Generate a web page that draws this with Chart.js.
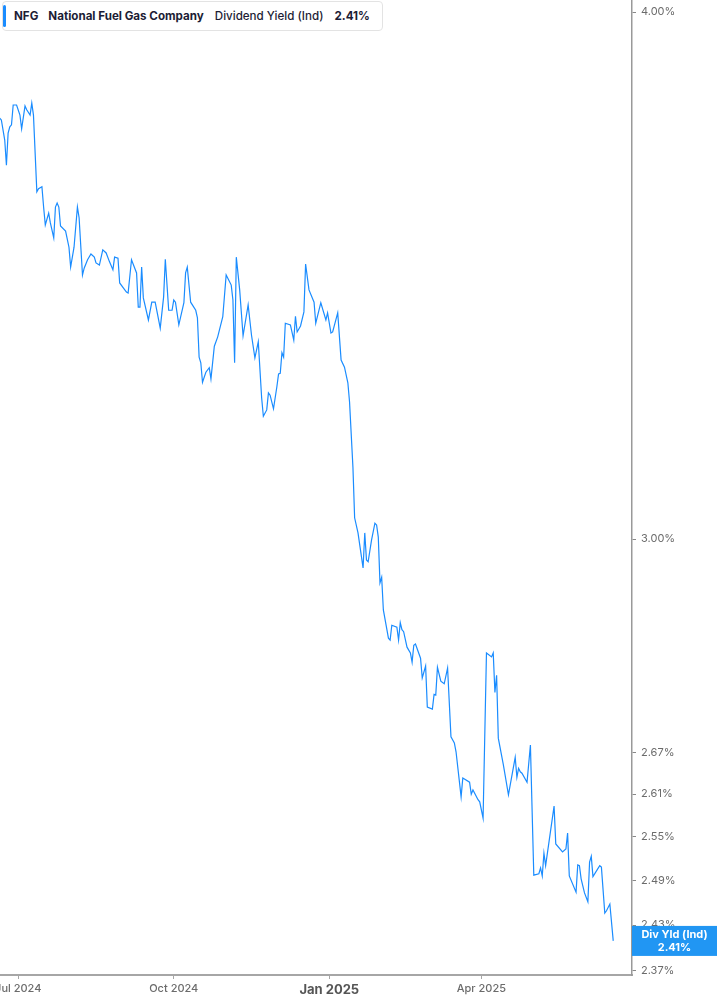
<!DOCTYPE html>
<html>
<head>
<meta charset="utf-8">
<script src="https://cdn.jsdelivr.net/npm/chart.js@4.4.1/dist/chart.umd.min.js"></script>
<style>
    html, body { margin: 0; padding: 0; background: #ffffff; }
    #wrap { position: relative; width: 717px; height: 1005px; }
    #legendBox {
        position: absolute; left: 2px; top: 1px; height: 28px;
        display: flex; align-items: center; gap: 10px;
        padding: 0 12px 0 11px;
        background: #ffffff; border: 1px solid #e3e3e3; border-radius: 4px;
        font: 400 11.6px Inter, sans-serif; color: #1d1d35; white-space: nowrap;
    }
    #legendBox .bar {
        position: absolute; left: 0px; top: 3px; width: 3px; height: 22px;
        background: #1a8cff; border-radius: 2px;
    }
    #legendBox b { font-weight: 700; }
    #legendBox .metric { margin-left: 1px; font-weight: 500; }
    #legendBox .val { margin-left: 1px; }
</style>
</head>
<body>
<div id="wrap">
    <canvas id="yieldChart"></canvas>
    <div id="legendBox">
        <span class="bar"></span>
        <b>NFG</b>
        <b>National Fuel Gas Company</b>
        <span class="metric">Dividend Yield (Ind)</span>
        <b class="val">2.41%</b>
    </div>
</div>
<script>
// ---- Data: days counted from 1 Jul 2024, dividend yield in % ----
const dayOffsets = [
    -11, -10, -8, -7, -6, -5, -4, -3, -1, 1, 2, 4, 5, 7, 8, 9,
    11, 12, 14, 15, 16, 18, 19, 21, 22, 23, 24, 25, 28, 30, 31, 33,
    35, 36, 38, 39, 41, 43, 45, 46, 48, 50, 52, 54, 56, 57, 59, 60,
    64, 65, 67, 70, 71, 72, 73, 74, 77, 79, 81, 84, 86, 87, 89, 91,
    92, 93, 95, 98, 99, 100, 102, 105, 106, 107, 108, 109, 111, 113, 114, 116,
    118, 121, 123, 126, 127, 128, 129, 131, 133, 136, 138, 140, 142, 144, 145, 147,
    148, 149, 151, 153, 154, 155, 156, 157, 158, 161, 163, 164, 165, 167, 169, 170,
    172, 175, 176, 179, 182, 183, 185, 186, 189, 191, 193, 195, 196, 198, 199, 201,
    204, 205, 206, 207, 209, 211, 212, 213, 214, 215, 216, 219, 220, 221, 224, 225,
    226, 227, 228, 230, 232, 233, 234, 235, 238, 239, 241, 242, 245, 246, 247, 248,
    250, 252, 254, 256, 258, 259, 262, 263, 267, 268, 269, 272, 273, 275, 277, 280,
    281, 282, 283, 284, 287, 290, 294, 295, 296, 297, 298, 301, 303, 305, 308, 309,
    310, 311, 312, 317, 318, 322, 324, 325, 326, 330, 331, 332, 333, 335, 337, 338,
    339, 340, 344, 345, 347, 348, 350, 352
];
const yieldValues = [
    3.775, 3.771, 3.730, 3.679, 3.744, 3.757, 3.761, 3.802, 3.802, 3.781, 3.753, 3.800, 3.792, 3.781, 3.806, 3.781,
    3.626, 3.632, 3.636, 3.596, 3.561, 3.584, 3.565, 3.536, 3.596, 3.604, 3.596, 3.559, 3.549, 3.518, 3.480, 3.518,
    3.596, 3.575, 3.465, 3.478, 3.494, 3.505, 3.499, 3.488, 3.484, 3.513, 3.507, 3.490, 3.475, 3.499, 3.497, 3.450,
    3.433, 3.431, 3.494, 3.469, 3.405, 3.405, 3.480, 3.422, 3.381, 3.414, 3.414, 3.366, 3.424, 3.495, 3.399, 3.399,
    3.418, 3.414, 3.372, 3.413, 3.469, 3.480, 3.414, 3.399, 3.385, 3.313, 3.303, 3.268, 3.286, 3.294, 3.274, 3.333,
    3.350, 3.387, 3.465, 3.446, 3.418, 3.303, 3.499, 3.437, 3.352, 3.409, 3.353, 3.312, 3.341, 3.240, 3.208, 3.219,
    3.249, 3.245, 3.221, 3.260, 3.283, 3.284, 3.321, 3.313, 3.375, 3.372, 3.344, 3.388, 3.359, 3.370, 3.396, 3.486,
    3.437, 3.414, 3.375, 3.413, 3.381, 3.394, 3.357, 3.359, 3.394, 3.308, 3.295, 3.267, 3.233, 3.120, 3.035, 3.010,
    2.953, 3.010, 2.966, 2.963, 2.998, 3.026, 3.023, 3.003, 2.929, 2.938, 2.886, 2.842, 2.839, 2.862, 2.859, 2.839,
    2.866, 2.855, 2.852, 2.828, 2.819, 2.805, 2.831, 2.833, 2.811, 2.781, 2.799, 2.737, 2.734, 2.756, 2.755, 2.797,
    2.776, 2.772, 2.796, 2.693, 2.684, 2.671, 2.606, 2.633, 2.627, 2.610, 2.616, 2.602, 2.599, 2.576, 2.819, 2.813,
    2.819, 2.759, 2.785, 2.691, 2.652, 2.609, 2.663, 2.634, 2.647, 2.642, 2.640, 2.627, 2.681, 2.497, 2.499, 2.507,
    2.496, 2.527, 2.510, 2.593, 2.540, 2.529, 2.533, 2.555, 2.496, 2.474, 2.511, 2.510, 2.492, 2.473, 2.461, 2.515,
    2.523, 2.495, 2.510, 2.508, 2.446, 2.449, 2.458, 2.409
];
const yTicks      = [4.00, 3.00, 2.67, 2.61, 2.55, 2.49, 2.43, 2.37];
const xTickDays   = [0, 92, 184, 274];
const xTickLabels = ['Jul 2024', 'Oct 2024', 'Jan 2025', 'Apr 2025'];
const badgeLines  = ['Div Yld (Ind)', '2.41%'];

const lineColor  = '#1a8cff';
const badgeColor = '#2196f3';
const axisColor  = '#a6a6a6';
const tickText   = '#6b6b6b';

Chart.defaults.font.family = "Inter, 'Noto Sans', sans-serif";

// ---- Badge with the last value on the right axis ----
const lastValueBadge = {
    id: 'lastValueBadge',
    afterDraw(chart) {
        const {ctx, chartArea, scales} = chart;
        const last = yieldValues[yieldValues.length - 1];
        const y  = scales.y.getPixelForValue(last);
        const x0 = chartArea.right;
        const w  = chart.width - x0;
        ctx.save();
        ctx.fillStyle = badgeColor;
        ctx.fillRect(x0, y - 15, w, 30);
        ctx.fillStyle = '#ffffff';
        ctx.font = "700 11px Inter, sans-serif";
        ctx.textAlign = 'center';
        ctx.textBaseline = 'middle';
        ctx.fillText(badgeLines[0], x0 + w / 2, y - 6);
        ctx.fillText(badgeLines[1], x0 + w / 2, y + 7);
        ctx.restore();
    }
};

const noPad = (scale) => {
    scale.paddingLeft = 0; scale.paddingRight = 0;
    scale.paddingTop = 0; scale.paddingBottom = 0;
};

new Chart(document.getElementById('yieldChart').getContext('2d'), {
    type: 'line',
    data: {
        datasets: [{
            label: 'Dividend Yield (Ind)',
            data: dayOffsets.map((d, i) => ({x: d, y: yieldValues[i]})),
            borderColor: lineColor,
            borderWidth: 1.2,
            pointRadius: 0,
            tension: 0,
            fill: false,
        }]
    },
    options: {
        responsive: true,
        maintainAspectRatio: false,
        animation: false,
        layout: { padding: 0 },
        plugins: {
            legend: { display: false },
            tooltip: { enabled: false },
        },
        scales: {
            x: {
                type: 'linear',
                min: -10.8,
                max: 363.1,
                afterBuildTicks: (scale) => { scale.ticks = xTickDays.map(v => ({value: v})); },
                afterFit: (scale) => { scale.height = 30; noPad(scale); },
                ticks: {
                    autoSkip: false,
                    maxRotation: 0,
                    padding: 3,
                    color: (c) => c.index === 2 ? '#555555' : tickText,
                    font: (c) => c.index === 2 ? {size: 13, weight: '700'} : {size: 11, weight: '500'},
                    callback: (v, i) => xTickLabels[i],
                },
                grid: {
                    drawOnChartArea: false,
                    drawTicks: true,
                    tickLength: 4,
                    color: axisColor,
                },
                border: { display: true, color: axisColor, width: 2 },
            },
            y: {
                type: 'logarithmic',
                position: 'right',
                min: 2.3646,
                max: 4.0263,
                afterBuildTicks: (scale) => { scale.ticks = yTicks.map(v => ({value: v})); },
                afterFit: (scale) => { scale.width = 85; noPad(scale); },
                ticks: {
                    autoSkip: false,
                    padding: 5,
                    color: tickText,
                    font: { size: 11, weight: '400' },
                    callback: (v) => Number(v).toFixed(2) + '%',
                },
                grid: {
                    drawOnChartArea: false,
                    drawTicks: true,
                    tickLength: 4,
                    color: '#888888',
                },
                border: { display: true, color: '#999999', width: 1.5 },
            }
        }
    },
    plugins: [lastValueBadge]
});
</script>
</body>
</html>
